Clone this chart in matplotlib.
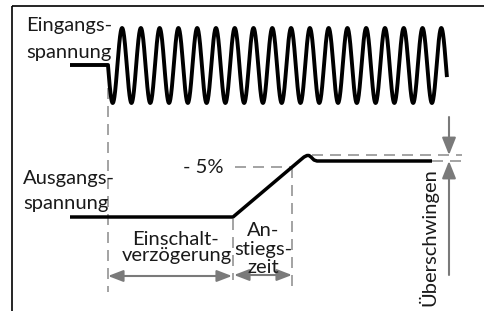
import numpy as np
import matplotlib
matplotlib.use("Agg")
import matplotlib.pyplot as plt

# ---- data (diagram coordinates, pixel-like units, y grows downward) ----
# input signal: flat part then oscillation
in_flat_x = [70, 108]
in_flat_y = [65, 65]
sine_start = 108
sine_end = 446
sine_periods = 18
sine_center = 65.5
sine_amp = 37.5

# output signal: delay, ramp, overshoot, settled
out_x = [70, 233, 301, 304, 307, 309, 311, 314, 317, 432]
out_y = [217, 217, 159.5, 157, 155.5, 155.5, 157, 160, 161, 161]

# guide lines
vdash_x = [108, 233, 292]
vdash_y0 = [88, 219, 167]
vdash_y1 = [292, 280, 287]
hdash_y = [167, 155, 161]
hdash_x0 = [235, 312, 432]
hdash_x1 = [292, 462, 467]

labels_left = ["Eingangs-", "spannung", "Ausgangs-", "spannung"]

fig = plt.figure(figsize=(4.84, 3.11), dpi=100)
ax = fig.add_axes([0, 0, 1, 1])
ax.set_xlim(0, 484)
ax.set_ylim(311, 0)
ax.axis("off")

FONT = "Lato"
FS = 14.5
black = "black"
gray_d = "#8a8a8a"
gray_a = "#7a7a7a"

# frame (top and left)
ax.plot([12, 484], [6, 6], color=black, lw=1.2, solid_capstyle="butt")
ax.plot([12, 12], [6, 311], color=black, lw=1.2, solid_capstyle="butt")

# dashed guides
lw_d = 1.1
lw_px = lw_d * 100 / 72
dash = (0, (11 / lw_px, 7 / lw_px))
for x, y0, y1 in zip(vdash_x, vdash_y0, vdash_y1):
    ax.plot([x, x], [y0, y1], color=gray_d, lw=lw_d, linestyle=dash)
for y, x0, x1 in zip(hdash_y, hdash_x0, hdash_x1):
    ax.plot([x0, x1], [y, y], color=gray_d, lw=lw_d, linestyle=dash)

# input signal
T = (sine_end - sine_start) / sine_periods
xs = np.linspace(sine_start, sine_end + T * 0.05, 2000)
ys = sine_center + sine_amp * np.sin(2 * np.pi * (xs - sine_start) / T)
ax.plot(in_flat_x + list(xs), in_flat_y + list(ys), color=black, lw=2.8,
        solid_joinstyle="round", solid_capstyle="butt")

# output signal
ax.plot(out_x, out_y, color=black, lw=2.5, solid_joinstyle="round",
        solid_capstyle="butt")

# arrows
def arrow(x0, y0, x1, y1, style):
    ax.annotate("", xy=(x1, y1), xytext=(x0, y0),
                arrowprops=dict(arrowstyle=style, color=gray_a, lw=1.5,
                                shrinkA=0, shrinkB=0, mutation_scale=7))

arrow(449, 117, 449, 155, "-|>,head_length=1.5,head_width=0.6")
arrow(449, 275, 449, 161, "-|>,head_length=1.5,head_width=0.6")
arrow(108, 276, 232, 276, "<|-|>,head_length=1.3,head_width=0.5")
arrow(234, 275, 292, 275, "<|-|>,head_length=1.3,head_width=0.5")

tk = dict(fontfamily=FONT, fontsize=FS, color="#1a1a1a", va="baseline")
ax.text(26, 31, labels_left[0], ha="left", **tk)
ax.text(26, 58, labels_left[1], ha="left", **tk)
ax.text(23, 184, labels_left[2], ha="left", **tk)
ax.text(23, 209, labels_left[3], ha="left", **tk)
ax.text(203, 173, "- 5%", ha="center", **tk)
ax.text(176, 245, "Einschalt-", ha="center", **tk)
ax.text(177, 261, "verzögerung", ha="center", **tk)
ax.text(263, 236, "An-", ha="center", **tk)
ax.text(263, 255, "stiegs-", ha="center", **tk)
ax.text(263, 273, "zeit", ha="center", **tk)
ax.text(428, 237, "Überschwingen", ha="center", va="center", rotation=90,
        fontfamily=FONT, fontsize=FS, color="#1a1a1a")

fig.savefig("out.png", dpi=100)
